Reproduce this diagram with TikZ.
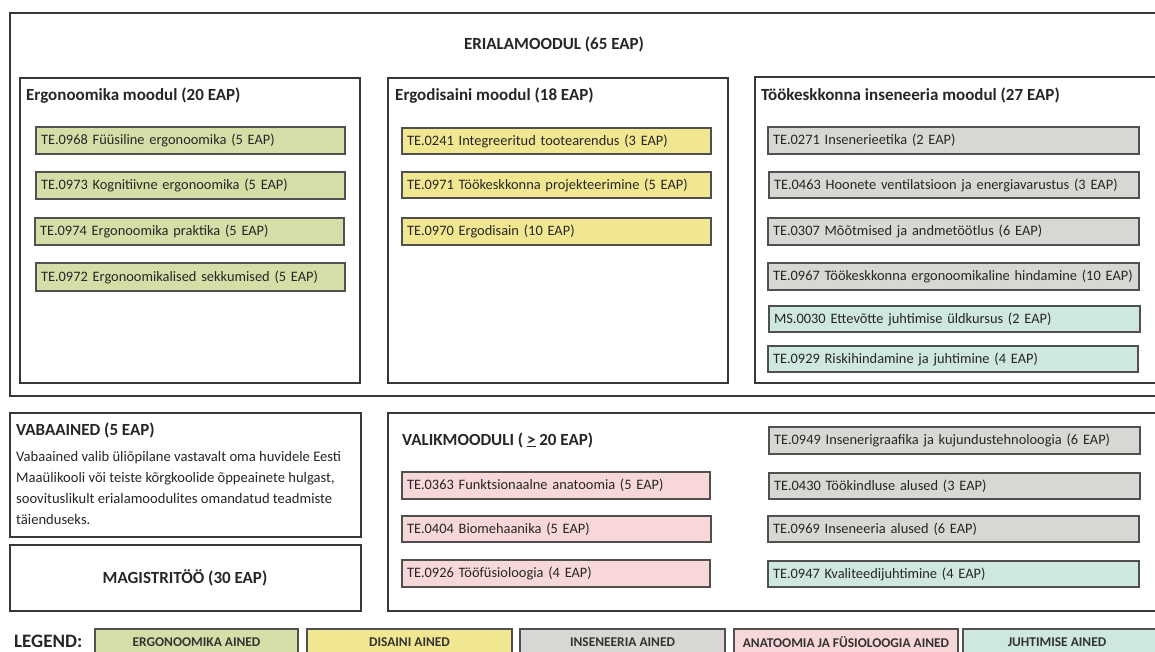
\documentclass[tikz,border=0pt]{standalone}
\usepackage{fontspec}
\setmainfont{Carlito}
\definecolor{cgreen}{RGB}{212,223,168}
\definecolor{cyellow}{RGB}{241,231,145}
\definecolor{cgrey}{RGB}{217,215,211}
\definecolor{cpink}{RGB}{247,215,215}
\definecolor{cteal}{RGB}{206,231,225}
\definecolor{lnc}{RGB}{55,55,55}
\definecolor{lnc2}{RGB}{80,80,80}
\tikzset{
  modbox/.style={draw=lnc, line width=2pt, fill=none},
  crsbox/.style={draw=lnc2, line width=1.3pt, inner xsep=5pt, inner ysep=0pt, outer sep=0pt, align=left, anchor=center, font=\fontsize{14.4}{16}\selectfont, text=black!85},
  modtitle/.style={anchor=west, inner sep=0pt, font=\bfseries\fontsize{17}{19}\selectfont, text=black!85},
  legbox/.style={draw=lnc2, line width=1.3pt, inner sep=0pt, outer sep=0pt},
  legtext/.style={inner sep=0pt, font=\bfseries\fontsize{13.4}{15}\selectfont, text=black!80},
}
\newcommand\crs[7]{%
  \pgfmathsetmacro\crsW{#4-#2}%
  \pgfmathsetmacro\crsH{#5-#3}%
  \pgfmathsetmacro\crsT{#4-#2-10}%
  \node[crsbox, fill=#6, minimum width=\crsW pt, minimum height=\crsH pt, text width=\crsT pt] (#1) at ({(#2+#4)/2},{(#3+#5)/2}) {#7};}
\newcommand\modbx[5]{%
  \pgfmathsetmacro\crsW{#4-#2}%
  \pgfmathsetmacro\crsH{#5-#3}%
  \node[modbox, minimum width=\crsW pt, minimum height=\crsH pt, inner sep=0pt, outer sep=0pt] (#1) at ({(#2+#4)/2},{(#3+#5)/2}) {};}
\begin{document}
\begin{tikzpicture}[x=1pt,y=-1pt]
\useasboundingbox (0,0) rectangle (1155,651);
\begin{scope}
\clip (0,0) rectangle (1155,651);
\fill[white] (0,0) rectangle (1155,651);
% outer
\modbx{outer}{10}{13}{1170}{396}
\node[anchor=center, inner sep=0pt, font=\bfseries\fontsize{17}{19}\selectfont, text=black!85] (otitle) at (554,44) {ERIALAMOODUL (65 EAP)};
% modules
\modbx{m1}{20}{78}{360}{383}
\node[modtitle] (m1t) at (26,96) {Ergonoomika moodul (20 EAP)};
\modbx{m2}{388}{78}{728}{383}
\node[modtitle] (m2t) at (395,96) {Ergodisaini moodul (18 EAP)};
\modbx{m3}{755}{77}{1170}{383}
\node[modtitle] (m3t) at (761,95) {Töökeskkonna inseneeria moodul (27 EAP)};
% module 1
\crs{a1}{36}{127}{345}{154}{cgreen}{TE.0968 Füüsiline ergonoomika (5 EAP)}
\crs{a2}{36}{172}{345}{199}{cgreen}{TE.0973 Kognitiivne ergonoomika (5 EAP)}
\crs{a3}{35}{218}{344}{245}{cgreen}{TE.0974 Ergonoomika praktika (5 EAP)}
\crs{a4}{36}{263}{345}{291}{cgreen}{TE.0972 Ergonoomikalised sekkumised (5 EAP)}
% module 2
\crs{b1}{402}{128}{711}{154}{cyellow}{TE.0241 Integreeritud tootearendus (3 EAP)}
\crs{b2}{402}{172}{711}{198}{cyellow}{TE.0971 Töökeskkonna projekteerimine (5 EAP)}
\crs{b3}{402}{218}{711}{245}{cyellow}{TE.0970 Ergodisain (10 EAP)}
% module 3
\crs{c1}{768}{127}{1139}{154}{cgrey}{TE.0271 Insenerieetika (2 EAP)}
\crs{c2}{769}{172}{1139}{198}{cgrey}{TE.0463 Hoonete ventilatsioon ja energiavarustus (3 EAP)}
\crs{c3}{768}{218}{1139}{245}{cgrey}{TE.0307 Mõõtmised ja andmetöötlus (6 EAP)}
\crs{c4}{768}{263}{1139}{290}{cgrey}{TE.0967 Töökeskkonna ergonoomikaline hindamine (10 EAP)}
\crs{c5}{769}{306}{1140}{332}{cteal}{MS.0030 Ettevõtte juhtimise üldkursus (2 EAP)}
\crs{c6}{768}{346}{1138}{372}{cteal}{TE.0929 Riskihindamine ja juhtimine (4 EAP)}
% vabaained
\modbx{vb}{10}{413}{361}{537}
\node[modtitle] (vbt) at (16,430) {VABAAINED (5 EAP)};
\node[anchor=north west, inner sep=0pt, align=left, font=\fontsize{14.6}{21}\selectfont, text=black!85] (vbp) at (16,451) {Vabaained valib üliõpilane vastavalt oma huvidele Eesti\\Maaülikooli või teiste kõrgkoolide õppeainete hulgast,\\soovituslikult erialamoodulites omandatud teadmiste\\täienduseks.};
% magistritoo
\modbx{mg}{10}{545}{361}{611}
\node[anchor=center, inner sep=0pt, font=\bfseries\fontsize{17}{19}\selectfont, text=black!85] (mgt) at (185,578) {MAGISTRITÖÖ (30 EAP)};
% valikmooduli
\modbx{vm}{388}{413}{1170}{611}
\node[modtitle] (vmt) at (402,440) {VALIKMOODULI ( \underline{>} 20 EAP)};
\crs{p1}{402}{472}{710}{499}{cpink}{TE.0363 Funktsionaalne anatoomia (5 EAP)}
\crs{p2}{402}{516}{711}{542}{cpink}{TE.0404 Biomehaanika (5 EAP)}
\crs{p3}{402}{560}{710}{587}{cpink}{TE.0926 Tööfüsioloogia (4 EAP)}
\crs{r1}{769}{427}{1140}{454}{cgrey}{TE.0949 Insenerigraafika ja kujundustehnoloogia (6 EAP)}
\crs{r2}{769}{473}{1140}{499}{cgrey}{TE.0430 Töökindluse alused (3 EAP)}
\crs{r3}{768}{516}{1139}{542}{cgrey}{TE.0969 Inseneeria alused (6 EAP)}
\crs{r4}{768}{561}{1139}{587}{cteal}{TE.0947 Kvaliteedijuhtimine (4 EAP)}
% legend
\node[anchor=west, inner sep=0pt, font=\bfseries\fontsize{19}{21}\selectfont, text=black!85] (leg) at (14,641.5) {LEGEND:};
\node[legbox, fill=cgreen, minimum width=203pt, minimum height=30pt] (l1) at (196.5,644) {};
\node[legbox, fill=cyellow, minimum width=205pt, minimum height=30pt] (l2) at (409.5,644) {};
\node[legbox, fill=cgrey, minimum width=205pt, minimum height=30pt] (l3) at (622.5,644) {};
\node[legbox, fill=cpink, minimum width=224pt, minimum height=30pt] (l4) at (846,644) {};
\node[legbox, fill=cteal, minimum width=210pt, minimum height=30pt] (l5) at (1068,644) {};
\node[legtext] (l1t) at (196.5,642.5) {ERGONOOMIKA AINED};
\node[legtext] (l2t) at (409.5,642.5) {DISAINI AINED};
\node[legtext] (l3t) at (622.5,642.5) {INSENEERIA AINED};
\node[legtext] (l4t) at (846,642.5) {ANATOOMIA JA FÜSIOLOOGIA AINED};
\node[legtext] (l5t) at (1057,642.5) {JUHTIMISE AINED};
\end{scope}
\end{tikzpicture}
\end{document}
